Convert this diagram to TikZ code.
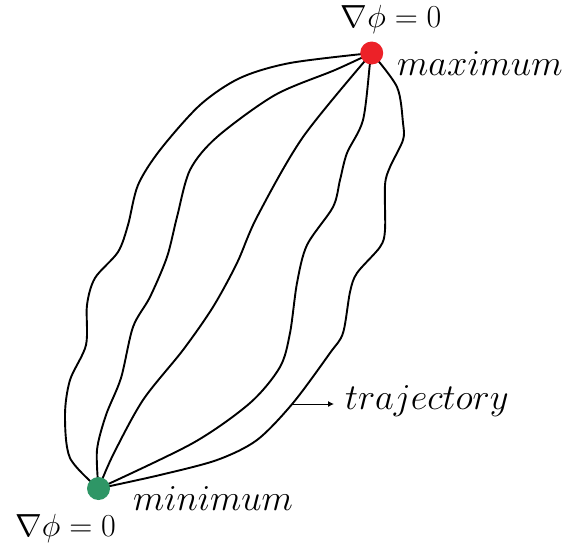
\RequirePackage{fix-cm}
\documentclass[tikz,border=0pt]{standalone}
\usepackage{xcolor}
\usepackage{tikz}
\usetikzlibrary{arrows.meta, positioning, backgrounds}
\definecolor{maxred}  {HTML}{EC2128}
\definecolor{mingreen}{HTML}{2E9666}

\begin{document}
\begin{tikzpicture}[
    x=1pt, y=-1pt,
    dot/.style={circle, inner sep=0pt, minimum size=23pt},
    traj/.style={line width=1.9pt, line join=round, line cap=round},
    lab/.style={inner sep=0pt, font=\fontsize{36.5}{40}\selectfont},
    grad/.style={inner sep=0pt, font=\fontsize{32}{36}\selectfont},
    arr/.style={-{Latex[length=6pt, width=6pt]}, line width=1pt},
  ]
    \useasboundingbox (0,0) rectangle (569,547);

    \node[dot, fill=maxred]   (max) at (371.7,53)   {};
    \node[dot, fill=mingreen] (min) at (98.5,488.5) {};

    \node[grad, anchor=base]      (gradmax) at (391,27.5)  {$\nabla\phi = 0$};
    \node[lab,  anchor=base west] (maxlab)  at (397,75)    {$maximum$};
    \node[lab,  anchor=base west] (minlab)  at (133,510.7) {$minimum$};
    \node[grad, anchor=base]      (gradmin) at (65.5,536)  {$\nabla\phi = 0$};

    % trajectories between the two critical points
    \begin{scope}[on background layer]
      \draw[traj] plot[smooth, tension=0.5] coordinates {(max.center) (290,63) (240,78)
        (200,105) (160,150) (138,185) (128,225) (118,252) (95,278) (87,305)
        (86,345) (70,380) (65,415) (70,458) (min.center)};
      \draw[traj] plot[smooth, tension=0.5] coordinates {(max.center) (335,70) (275,95)
        (217,137) (190,170) (177,217) (167,257) (150,297) (133,327) (121,378)
        (106,415) (97,450) (min.center)};
      \draw[traj] plot[smooth, tension=0.5] coordinates {(max.center) (303,137) (257,217)
        (237,263) (213,307) (183,350) (143,400) (113,455) (min.center)};
      \draw[traj] plot[smooth, tension=0.5] coordinates {(max.center) (370,63) (363,120)
        (347,153) (340,180) (333,207) (307,245) (297,283) (290,333) (280,367)
        (250,403) (193,443) (min.center)};
      \draw[traj] plot[smooth, tension=0.5] coordinates {(max.center) (397,87) (403,123)
        (403,140) (390,167) (385,185) (385,230) (380,247) (357,273) (350,292)
        (343,333) (330,353) (293,403) (257,440) (217,460) (160,475) (min.center)};
    \end{scope}

    \coordinate (trajfoot) at (291,404);
    \node[lab, anchor=base west] (trajlab) at (345,409) {$trajectory$};
    \draw[arr, shorten >=11pt] (trajfoot) -- (trajfoot -| trajlab.west);
  \end{tikzpicture}
\end{document}
